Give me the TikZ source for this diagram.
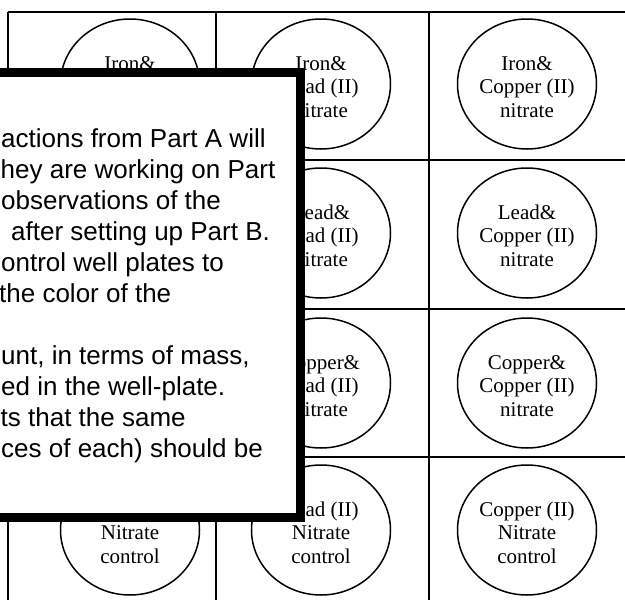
\documentclass[tikz,border=0pt]{standalone}
\usepackage{fontspec}
\setmainfont{Liberation Serif}
\newfontfamily\boxfont{Liberation Sans}
\usetikzlibrary{shapes.geometric}
\begin{document}
\begin{tikzpicture}[x=1pt,y=-1pt,
  gridline/.style={line width=2pt},
  well/.style={ellipse, draw, line width=1.5pt, minimum width=139pt, minimum height=130pt, inner sep=0pt},
  welltext/.style={align=center, inner sep=0pt, font=\fontsize{21}{23.5}\selectfont},
  notebox/.style={draw, fill=white, line width=9pt},
  noteline/.style={font=\boxfont\fontsize{26}{31}\selectfont, anchor=base west, inner sep=0pt}]
\useasboundingbox (0,0) rectangle (625,600);
% grid
\draw[gridline] (8,12) -- (650,12);
\draw[gridline] (8,160) -- (650,160);
\draw[gridline] (8,309) -- (650,309);
\draw[gridline] (8,457) -- (650,457);
\draw[gridline] (8,12) -- (8,620);
\draw[gridline] (216,12) -- (216,620);
\draw[gridline] (429,12) -- (429,620);
% wells
\node[well] (w11) at (130,84) {};
\node[well] (w12) at (321,84) {};
\node[well] (w13) at (527,84) {};
\node[well] (w21) at (130,233) {};
\node[well] (w22) at (321,233) {};
\node[well] (w23) at (527,233) {};
\node[well] (w31) at (130,383) {};
\node[well] (w32) at (321,383) {};
\node[well] (w33) at (527,383) {};
\node[well] (w41) at (130,530) {};
\node[well] (w42) at (321,530) {};
\node[well] (w43) at (527,530) {};
\node[welltext] (l11) at ([yshift=-5pt]w11.center) {Iron\&\strut\\\strut\\\strut};
\node[welltext] (l12) at ([yshift=-5pt]w12.center) {Iron\&\strut\\Lead (II)\strut\\nitrate\strut};
\node[welltext] (l13) at ([yshift=-5pt]w13.center) {Iron\&\strut\\Copper (II)\strut\\nitrate\strut};
\node[welltext] (l22) at ([yshift=-5pt]w22.center) {Lead\&\strut\\Lead (II)\strut\\nitrate\strut};
\node[welltext] (l23) at ([yshift=-5pt]w23.center) {Lead\&\strut\\Copper (II)\strut\\nitrate\strut};
\node[welltext] (l32) at ([yshift=-5pt]w32.center) {Copper\&\strut\\Lead (II)\strut\\nitrate\strut};
\node[welltext] (l33) at ([yshift=-5pt]w33.center) {Copper\&\strut\\Copper (II)\strut\\nitrate\strut};
\node[welltext] (l41) at ([yshift=-5pt]w41.center) {\strut\\Nitrate\strut\\control\strut};
\node[welltext] (l42) at ([yshift=-5pt]w42.center) {Lead (II)\strut\\Nitrate\strut\\control\strut};
\node[welltext] (l43) at ([yshift=-5pt]w43.center) {Copper (II)\strut\\Nitrate\strut\\control\strut};
% overlaid note box
\draw[notebox] (-200,72.5) rectangle (300.5,517);
\node[noteline] (t1) at (1,147) {actions from Part A will};
\node[noteline] (t2) at (0.5,178) {hey are working on Part};
\node[noteline] (t3) at (1,209) {observations of the};
\node[noteline] (t4) at (11,240) {after setting up Part B.};
\node[noteline] (t5) at (1,271) {ontrol well plates to};
\node[noteline] (t6) at (-1,302) {the color of the};
\node[noteline] (t8) at (1,364) {unt, in terms of mass,};
\node[noteline] (t9) at (1,395) {ed in the well-plate.};
\node[noteline] (t10) at (0.5,426) {ts that the same};
\node[noteline] (t11) at (1,457) {ces of each) should be};
\end{tikzpicture}
\end{document}
